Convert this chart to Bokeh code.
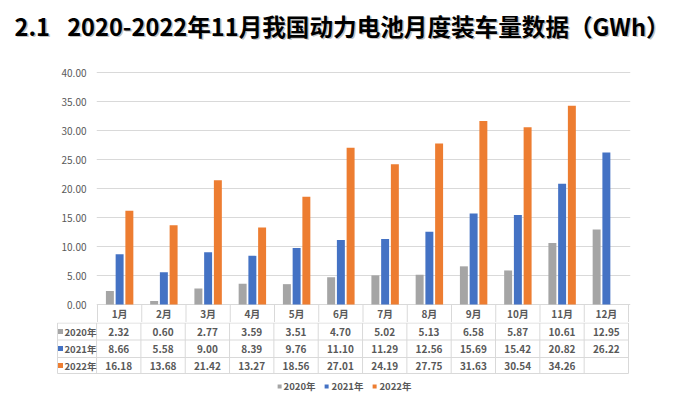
from bokeh.plotting import figure
from bokeh.models import (Range1d, FixedTicker, NumeralTickFormatter, ColumnDataSource,
                          Legend, LegendItem)
from bokeh.layouts import column
from bokeh.embed import file_html
from bokeh.resources import INLINE
from bokeh.core.properties import value

# ---------------- data ----------------
title_text = "2.1\u2002 2020-2022年11月我国动力电池月度装车量数据（GWh）"
months = ["1月", "2月", "3月", "4月", "5月", "6月", "7月", "8月", "9月", "10月", "11月", "12月"]
series_names = ["2020年", "2021年", "2022年"]
v2020 = [2.32, 0.60, 2.77, 3.59, 3.51, 4.70, 5.02, 5.13, 6.58, 5.87, 10.61, 12.95]
v2021 = [8.66, 5.58, 9.00, 8.39, 9.76, 11.10, 11.29, 12.56, 15.69, 15.42, 20.82, 26.22]
v2022 = [16.18, 13.68, 21.42, 13.27, 18.56, 27.01, 24.19, 27.75, 31.63, 30.54, 34.26]
y_ticks = [0, 5, 10, 15, 20, 25, 30, 35, 40]

series_values = [v2020, v2021, v2022]
colors = ["#A5A5A5", "#4472C4", "#ED7D31"]

FONT = "Noto Sans CJK SC"
TXT = "#595959"
LINE = "#D9D9D9"
PX = 44.25          # pixels per category
PY = 5.8            # pixels per GWh
n = len(months)
W = 685


def bare(fig):
    fig.outline_line_color = None
    fig.background_fill_color = "white"
    fig.border_fill_color = "white"
    fig.xgrid.visible = False
    fig.ygrid.visible = False


# ---------------- title figure ----------------
tt = figure(width=W, height=60, x_range=Range1d(0, W), y_range=Range1d(0, 60),
            output_backend="svg", toolbar_location=None, frame_align=False,
            x_axis_location=None, y_axis_location=None,
            min_border_left=0, min_border_right=0, min_border_top=0, min_border_bottom=0)
bare(tt)
tt.text(x=[15.5], y=[33.5], text=[title_text], text_font=value(FONT), text_font_size="23.6px",
        text_font_style="bold", text_color="#8a8a8a", text_alpha=0.5, text_baseline="middle")
tt.text(x=[14], y=[35], text=[title_text], text_font=value(FONT), text_font_size="23.6px",
        text_font_style="bold", text_color="#000000", text_baseline="middle")

# ---------------- chart figure ----------------
p = figure(width=W, height=262,
           x_range=Range1d(-1 / PX, n + 2 / PX),
           y_range=Range1d(-18 / PY, 40 + 1 / PY),
           output_backend="svg", toolbar_location=None, frame_align=False,
           x_axis_location=None,
           min_border_left=96, min_border_right=55, min_border_top=11, min_border_bottom=0)
bare(p)

yax = p.yaxis[0]
yax.ticker = FixedTicker(ticks=y_ticks)
yax.formatter = NumeralTickFormatter(format="0.00")
yax.axis_line_color = None
yax.major_tick_line_color = None
yax.minor_tick_line_color = None
yax.major_tick_out = 0
yax.minor_tick_out = 0
yax.major_label_text_font_size = "10px"
yax.major_label_text_color = TXT
yax.major_label_text_font = FONT
yax.major_label_standoff = 10
p.ygrid.visible = True
p.ygrid.ticker = FixedTicker(ticks=y_ticks)
p.ygrid.grid_line_color = LINE
p.ygrid.grid_line_width = 1

offsets = [-0.22, 0.0, 0.22]
for vals, col, off in zip(series_values, colors, offsets):
    src = ColumnDataSource(dict(x=[i + 0.5 + off for i in range(len(vals))], top=vals))
    p.vbar(x="x", top="top", bottom=0, width=0.18, source=src,
           fill_color=col, line_color=None)

# month header row of the data table (below the zero line)
month_row_mid = -9 / PY
p.text(x=[i + 0.5 for i in range(n)], y=[month_row_mid] * n, text=months,
       text_align="center", text_baseline="middle", text_font=value(FONT),
       text_font_size="10px", text_font_style="bold", text_color=TXT)
p.segment(x0=list(range(n + 1)), x1=list(range(n + 1)),
          y0=[-18 / PY] * (n + 1), y1=[0] * (n + 1), line_color=LINE, line_width=1)

# ---------------- table figure ----------------
t = figure(width=W, height=76,
           x_range=Range1d(-41 / PX, n + 2 / PX), y_range=Range1d(0, 76),
           output_backend="svg", toolbar_location=None, frame_align=False,
           x_axis_location=None, y_axis_location=None,
           min_border_left=55, min_border_right=55, min_border_top=0, min_border_bottom=0)
bare(t)

left_x = -39 / PX
row_lines = [75.5, 58.5, 41, 25]
row_mid = [67, 50, 33]
t.segment(x0=[left_x] * len(row_lines), x1=[n] * len(row_lines), y0=row_lines, y1=row_lines,
          line_color=LINE, line_width=1)
vx = [left_x] + list(range(n + 1))
t.segment(x0=vx, x1=vx, y0=[row_lines[-1]] * len(vx), y1=[row_lines[0]] * len(vx),
          line_color=LINE, line_width=1)

key_src = ColumnDataSource(dict(x=[-36 / PX] * 3, y=row_mid, color=colors))
keys = t.scatter(x="x", y="y", marker="square", size=5, fill_color="color",
                 line_color=None, source=key_src)
t.text(x=[-32 / PX] * 3, y=row_mid, text=series_names, text_align="left",
       text_baseline="middle", text_font=value(FONT), text_font_size="9.5px",
       text_font_style="bold", text_color=TXT)

for vals, ym in zip(series_values, row_mid):
    t.text(x=[i + 0.5 for i in range(len(vals))], y=[ym] * len(vals),
           text=["%.2f" % v for v in vals], text_align="center", text_baseline="middle",
           text_font=value(FONT), text_font_size="10px", text_font_style="bold",
           text_color=TXT)

legend = Legend(items=[LegendItem(label=nm, renderers=[keys], index=i)
                       for i, nm in enumerate(series_names)],
                orientation="horizontal", location="bottom_center",
                glyph_width=10, glyph_height=10, label_standoff=0, spacing=6,
                label_text_font=FONT, label_text_font_size="9.5px",
                label_text_font_style="bold", label_text_color=TXT,
                label_height=10, padding=0, margin=5,
                border_line_color=None, background_fill_alpha=0)
t.add_layout(legend, "center")

layout = column(tt, p, t, spacing=0)
open("out.html", "w").write(file_html(layout, INLINE))
